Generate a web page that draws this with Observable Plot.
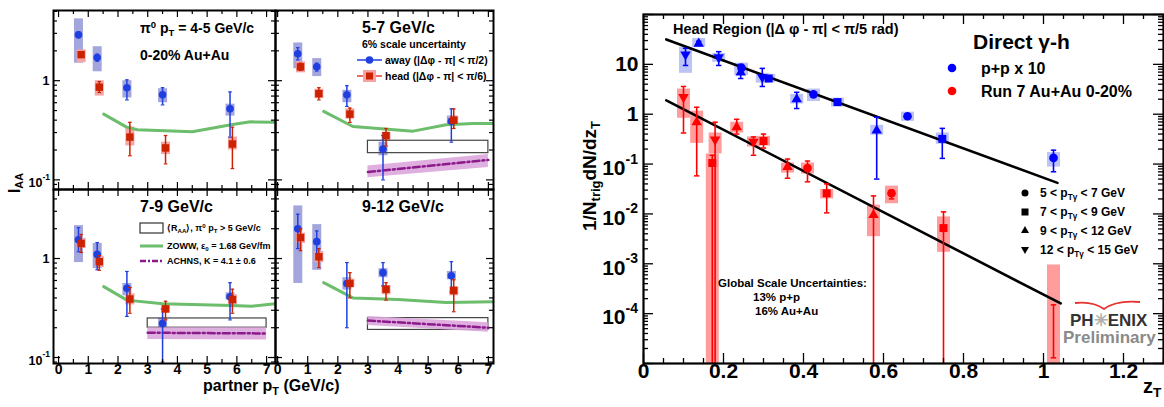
<!DOCTYPE html>
<html><head><meta charset="utf-8">
<script src="https://cdn.jsdelivr.net/npm/d3@7"></script>
<script src="https://cdn.jsdelivr.net/npm/@observablehq/plot@0.6"></script>
<style>
html,body{margin:0;padding:0;background:#fff;}
#root{position:relative;width:1164px;height:407px;overflow:hidden;background:#fff;font-family:"Liberation Sans",Arial,Helvetica,sans-serif;font-weight:bold;color:#000;}
.pan{position:absolute;}
.t{position:absolute;white-space:nowrap;line-height:1;}
.t sup,.t sub{font-size:68%;line-height:0;position:relative;vertical-align:baseline;}
.t sup{top:-0.5em;} .t sub{top:0.32em;}
.rot{transform:translate(-50%,-50%) rotate(-90deg);}
#ov{position:absolute;left:0;top:0;pointer-events:none;}
</style></head><body><div id="root"></div>
<script>
// ================= DATA: left panels, I_AA vs partner pT =================
const trigBins = ["4-5 GeV/c", "5-7 GeV/c", "7-9 GeV/c", "9-12 GeV/c"];
const awayPt = [0.67, 1.3, 2.3, 3.5, 5.77];
const headPt = [0.76, 1.37, 2.4, 3.6, 5.85];
const awayIAA    = [[2.9,1.71,0.85,0.72,0.52],[1.87,1.38,0.72,0.205,0.39],[1.55,1.1,0.5,0.22,0.41],[2.0,1.48,0.56,0.72,0.67]];
const awayStatLo = [[2.7,1.57,0.64,0.57,0.27],[1.62,1.25,0.55,0.1,0.24],[1.17,0.77,0.26,0.09,0.24],[1.26,1.12,0.2,0.53,0.46]];
const awayStatHi = [[3.1,1.85,1.02,0.85,0.77],[2.15,1.5,0.89,0.28,0.52],[2.05,1.45,0.74,0.31,0.57],[2.8,1.9,0.91,0.91,0.93]];
const awaySysLo  = [[1.5,1.23,0.67,0.6,0.44],[1.32,1.1,0.6,0.175,0.35],[0.91,0.79,0.42,0.195,0.38],[0.56,0.76,0.48,0.64,0.61]];
const awaySysHi  = [[4.2,2.2,1.0,0.83,0.58],[2.4,1.67,0.8,0.24,0.44],[2.15,1.42,0.56,0.25,0.45],[3.4,2.2,0.64,0.79,0.74]];
const headIAA    = [[1.83,0.86,0.27,0.21,0.23],[1.38,0.74,0.46,0.28,0.4],[1.42,0.93,0.39,0.31,0.385],[1.63,1.04,0.56,0.49,0.475]];
const headStatLo = [[1.72,0.76,0.175,0.145,0.13],[1.27,0.64,0.38,0.22,0.33],[1.15,0.76,0.28,0.24,0.28],[1.2,0.81,0.4,0.38,0.29]];
const headStatHi = [[1.95,0.98,0.38,0.28,0.34],[1.5,0.85,0.53,0.33,0.52],[1.75,1.07,0.51,0.37,0.49],[2.0,1.26,0.72,0.57,0.61]];
const headSysLo  = [[1.52,0.7,0.22,0.18,0.2],[1.2,0.66,0.41,0.25,0.37],[1.26,0.81,0.34,0.28,0.34],[1.42,0.91,0.51,0.43,0.42]];
const headSysHi  = [[2.05,1.0,0.34,0.24,0.27],[1.55,0.82,0.52,0.30,0.44],[1.6,1.05,0.44,0.35,0.43],[1.8,1.18,0.62,0.53,0.52]];
const zowwPt  = [[1.52,2.29,2.65,4.5,5.8,6.46,7.3],[1.53,2.5,4.5,5.6,6.5,7.2],[1.52,2.3,3.5,5.8,6.5,7.3],[1.53,2.5,4.0,5.6,7.2]];
const zowwIAA = [[0.46,0.34,0.32,0.305,0.36,0.385,0.38],[0.49,0.345,0.31,0.36,0.37,0.37],[0.52,0.38,0.35,0.335,0.33,0.35],[0.57,0.4,0.385,0.36,0.365]];
const raaPt = [3, 7];
const raaLo = [null, 0.186, 0.2, 0.19];
const raaHi = [null, 0.248, 0.248, 0.25];
const achnsPt  = [3, 7];
const achnsIAA = [null, [0.12,0.159], [0.178,0.175], [0.236,0.2]];
const achnsLo  = [null, [0.105,0.133], [0.152,0.15], [0.21,0.18]];
const achnsHi  = [null, [0.138,0.18], [0.2,0.2], [0.26,0.225]];
const partnerTicks = [0, 1, 2, 3, 4, 5, 6, 7];

// ================= DATA: right panel, 1/Ntrig dN/dzT vs zT =================
// bin: 0 = 5-7 GeV (circle), 1 = 7-9 (square), 2 = 9-12 (up triangle), 3 = 12-15 (down triangle)
const ppZ      = [0.105, 0.138, 0.188, 0.243, 0.245, 0.297, 0.313, 0.383, 0.425, 0.485, 0.583, 0.66, 0.747, 1.025];
const ppYield  = [15.8, 26, 13.8, 6.9, 8.5, 5.5, 5.2, 2.0, 2.5, 1.75, 0.47, 0.91, 0.32, 0.133];
const ppStatLo = [9.5, 24, 9.5, 5.2, 8, 3.6, 4.8, 1.3, 2.3, 1.6, 0.05, 0.85, 0.13, 0.07];
const ppStatHi = [21, 29, 18, 10, 9, 8.3, 5.6, 2.75, 2.7, 1.9, 0.87, 0.97, 0.52, 0.19];
const ppSysLo  = [6.6, 22, 11, 6, 6, 4.2, 4.3, 1.6, 1.8, 1.4, 0.38, 0.72, 0.25, 0.087];
const ppSysHi  = [22, 33, 16.6, 10.5, 10.5, 6.6, 6.3, 2.5, 3.2, 2.1, 0.6, 1.1, 0.42, 0.17];
const ppBin    = [3, 2, 3, 2, 0, 3, 1, 2, 0, 1, 2, 0, 1, 0];
const aaZ      = [0.1, 0.133, 0.172, 0.179, 0.233, 0.275, 0.3, 0.36, 0.41, 0.458, 0.575, 0.62, 0.75, 1.025];
const aaYield  = [2.2, 0.69, 0.105, 0.31, 0.55, 0.28, 0.29, 0.087, 0.083, 0.026, 0.0095, 0.026, 0.0052, null];
const aaStatLo = [0.42, 0.058, 1e-6, 1e-6, 0.4, 0.15, 0.21, 0.052, 0.044, 0.0105, 1e-6, 0.02, 1e-6, 1.3e-5];
const aaStatHi = [3.6, 1.38, 0.15, 0.69, 0.79, 0.35, 0.4, 0.126, 0.115, 0.04, 0.023, 0.03, 0.011, 1.5e-4];
const aaSysLo  = [0.83, 0.26, 1e-6, 0.16, 0.42, 0.22, 0.23, 0.066, 0.063, 0.02, 0.0035, 0.016, 0.0017, 1e-6];
const aaSysHi  = [3.2, 1.15, 0.16, 0.42, 0.69, 0.35, 0.36, 0.105, 0.105, 0.031, 0.015, 0.036, 0.0087, 9.5e-4];
const aaBin    = [3, 2, 1, 3, 2, 3, 1, 2, 0, 1, 2, 0, 1, 0];
const ppFitZ = [0.057, 1.035], ppFitY = [31.6, 0.042];
const aaFitZ = [0.057, 1.043], aaFitY = [1.9, 1.6e-4];
const zTicks = [0, 0.2, 0.4, 0.6, 0.8, 1.0, 1.2];
const yieldPlainTicks = [10, 1];
const yieldExpTicks = [0.1, 0.01, 0.001, 0.0001];

// ================= helpers =================
const root = document.getElementById("root");
const FONT = '"Liberation Sans", Arial, Helvetica, sans-serif';
const capSym = {draw(ctx, size) { const w = Math.sqrt(size / Math.PI) * 0.9; ctx.moveTo(-w, 0); ctx.lineTo(w, 0); }};
const T = (o) => ({fontFamily: FONT, fontWeight: "bold", fill: "#000", ...o});

function logMajor(lo, hi) { const o = []; for (let e = Math.floor(Math.log10(lo)); e <= Math.ceil(Math.log10(hi)); e++) { const v = Math.pow(10, e); if (v >= lo * 0.999 && v <= hi * 1.001) o.push(v); } return o; }
function logMinor(lo, hi) { const o = []; for (let e = Math.floor(Math.log10(lo)); e <= Math.ceil(Math.log10(hi)); e++) for (let k = 2; k <= 9; k++) { const v = k * Math.pow(10, e); if (v > lo && v < hi) o.push(v); } return o; }
function linTicks(lo, hi, step) { const o = []; for (let i = Math.ceil(lo / step - 1e-9); i * step <= hi + 1e-9; i++) o.push(+(i * step).toFixed(6)); return o; }

function frameTicks(W, H, xMaj, xMin, yMaj, yMin, lx, ly, sw) {
  const s = {stroke: "#000", strokeWidth: sw};
  return [
    Plot.tickX(xMaj, {x: d => d, insetTop: H - lx[0], ...s}),
    Plot.tickX(xMaj, {x: d => d, insetBottom: H - lx[0], ...s}),
    Plot.tickX(xMin, {x: d => d, insetTop: H - lx[1], ...s}),
    Plot.tickX(xMin, {x: d => d, insetBottom: H - lx[1], ...s}),
    Plot.tickY(yMaj, {y: d => d, insetRight: W - ly[0], ...s}),
    Plot.tickY(yMaj, {y: d => d, insetLeft: W - ly[0], ...s}),
    Plot.tickY(yMin, {y: d => d, insetRight: W - ly[1], ...s}),
    Plot.tickY(yMin, {y: d => d, insetLeft: W - ly[1], ...s})
  ];
}

function mount(svg, left, top, W, H) {
  const d = document.createElement("div");
  d.className = "pan";
  d.style.cssText = `left:${left}px;top:${top}px;width:${W}px;height:${H}px;`;
  d.appendChild(svg);
  root.appendChild(d);
}

// ================= left panels =================
const panelPos = [
  {left: 53, top: 10, W: 222, H: 179, xDom: [-0.17, 7.3], yDom: [0.08, 5.1], yLab: true, xLab: false},
  {left: 275, top: 10, W: 218, H: 179, xDom: [-0.07, 7.17], yDom: [0.08, 5.1], yLab: false, xLab: false},
  {left: 53, top: 189, W: 222, H: 174, xDom: [-0.17, 7.3], yDom: [0.087, 4.98], yLab: true, xLab: true},
  {left: 275, top: 189, W: 218, H: 174, xDom: [-0.07, 7.17], yDom: [0.087, 4.98], yLab: false, xLab: true}
];
const BLUE = "#1f3fe0", BLUE_BOX = "#a3a6dc", RED = "#cc2200", RED_BOX = "#f6a4a4";

trigBins.forEach((bin, i) => {
  const p = panelPos[i];
  const away = awayPt.map((x, j) => ({x, v: awayIAA[i][j], lo: awayStatLo[i][j], hi: awayStatHi[i][j], slo: awaySysLo[i][j], shi: awaySysHi[i][j]}));
  const head = headPt.map((x, j) => ({x, v: headIAA[i][j], lo: headStatLo[i][j], hi: headStatHi[i][j], slo: headSysLo[i][j], shi: headSysHi[i][j]}));
  const zoww = zowwPt[i].map((x, j) => ({x, v: zowwIAA[i][j]}));
  const marks = [
    Plot.ruleX(away, {x: "x", y1: "slo", y2: "shi", stroke: BLUE_BOX, strokeWidth: 9, clip: true}),
    Plot.ruleX(head, {x: "x", y1: "slo", y2: "shi", stroke: RED_BOX, strokeWidth: 9, clip: true}),
    Plot.line(zoww, {x: "x", y: "v", stroke: "#6cbd6c", strokeWidth: 3, clip: true})
  ];
  if (raaLo[i] != null) {
    marks.push(Plot.rect([{x1: raaPt[0], x2: raaPt[1], y1: raaLo[i], y2: raaHi[i]}], {x1: "x1", x2: "x2", y1: "y1", y2: "y2", fill: "none", stroke: "#444", strokeWidth: 1.2}));
  }
  if (achnsIAA[i]) {
    const a = achnsPt.map((x, j) => ({x, v: achnsIAA[i][j], lo: achnsLo[i][j], hi: achnsHi[i][j]}));
    marks.push(Plot.areaY(a, {x: "x", y1: "lo", y2: "hi", fill: "#dca6dc", fillOpacity: 0.9}));
    marks.push(Plot.line(a, {x: "x", y: "v", stroke: "#8b1a8b", strokeWidth: 2.5, strokeDasharray: "7,3,2,3"}));
  }
  marks.push(
    Plot.ruleX(away, {x: "x", y1: "lo", y2: "hi", stroke: BLUE, strokeWidth: 1.5, clip: true}),
    Plot.dot(away, {x: "x", y: "hi", symbol: capSym, r: 2, fill: "none", stroke: BLUE, strokeWidth: 1.2, clip: true}),
    Plot.dot(away, {x: "x", y: "lo", symbol: capSym, r: 2, fill: "none", stroke: BLUE, strokeWidth: 1.2, clip: true}),
    Plot.dot(away, {x: "x", y: "v", symbol: "circle", r: 3.8, fill: BLUE, stroke: "none"}),
    Plot.ruleX(head, {x: "x", y1: "lo", y2: "hi", stroke: RED, strokeWidth: 1.5, clip: true}),
    Plot.dot(head, {x: "x", y: "hi", symbol: capSym, r: 2, fill: "none", stroke: RED, strokeWidth: 1.2, clip: true}),
    Plot.dot(head, {x: "x", y: "lo", symbol: capSym, r: 2, fill: "none", stroke: RED, strokeWidth: 1.2, clip: true}),
    Plot.dot(head, {x: "x", y: "v", symbol: "square", r: 4.2, fill: RED, stroke: "none"}),
    Plot.frame({stroke: "#000", strokeWidth: 2}),
    ...frameTicks(p.W, p.H, partnerTicks, linTicks(-0.1, 7.3, 0.5).filter(d => d % 1 !== 0), logMajor(...p.yDom), logMinor(...p.yDom), [7, 4], [7, 4], 1.2)
  );
  if (p.yLab) {
    marks.push(
      Plot.text([1], T({y: d => d, text: () => "1", frameAnchor: "left", textAnchor: "end", dx: -4, fontSize: 12.5})),
      Plot.text([0.1], T({y: d => d, text: () => "10", frameAnchor: "left", textAnchor: "end", dx: -11, dy: 3, fontSize: 12.5})),
      Plot.text([0.1], T({y: d => d, text: () => "-1", frameAnchor: "left", textAnchor: "start", dx: -11, dy: -3, fontSize: 8.5}))
    );
  }
  if (p.xLab) {
    marks.push(Plot.text(partnerTicks, T({x: d => d, text: d => String(d), frameAnchor: "bottom", dy: 10, fontSize: 14})));
  }
  const svg = Plot.plot({
    width: p.W, height: p.H, margin: 0,
    x: {domain: p.xDom, axis: null},
    y: {type: "log", domain: p.yDom, axis: null},
    style: {overflow: "visible", background: "transparent", fontFamily: FONT},
    marks
  });
  mount(svg, p.left, p.top, p.W, p.H);
});

// ================= right panel =================
(function () {
  const W = 520, H = 349, xDom = [0, 1.3], yDom = [1e-5, 100];
  const pp = ppZ.map((z, j) => ({z, v: ppYield[j], lo: ppStatLo[j], hi: ppStatHi[j], slo: ppSysLo[j], shi: ppSysHi[j], b: ppBin[j]}));
  const aa = aaZ.map((z, j) => ({z, v: aaYield[j], lo: aaStatLo[j], hi: aaStatHi[j], slo: aaSysLo[j], shi: aaSysHi[j], b: aaBin[j]}));
  const ppFit = ppFitZ.map((z, j) => ({z, v: ppFitY[j]}));
  const aaFit = aaFitZ.map((z, j) => ({z, v: aaFitY[j]}));
  const syms = [["circle", 0, 4.3], ["square", 0, 4.5], ["triangle", 0, 3.9], ["triangle", 180, 3.9]];
  const marks = [
    Plot.ruleX(pp, {x: "z", y1: "slo", y2: "shi", stroke: "#bcc3f6", strokeWidth: 13, clip: true}),
    Plot.ruleX(aa, {x: "z", y1: "slo", y2: "shi", stroke: "#ff9c9c", strokeWidth: 13, clip: true}),
    Plot.line(ppFit, {x: "z", y: "v", stroke: "#000", strokeWidth: 2.6}),
    Plot.line(aaFit, {x: "z", y: "v", stroke: "#000", strokeWidth: 2.6})
  ];
  [[pp, "#0000ff"], [aa, "#ff0000"]].forEach(([data, col]) => {
    marks.push(
      Plot.ruleX(data, {x: "z", y1: "lo", y2: "hi", stroke: col, strokeWidth: 1.6, clip: true}),
      Plot.dot(data, {x: "z", y: "hi", symbol: capSym, r: 3, fill: "none", stroke: col, strokeWidth: 1.5, clip: true}),
      Plot.dot(data, {x: "z", y: "lo", symbol: capSym, r: 3, fill: "none", stroke: col, strokeWidth: 1.5, clip: true})
    );
    syms.forEach(([s, rot, r], b) => {
      marks.push(Plot.dot(data.filter(d => d.b === b && d.v != null), {x: "z", y: "v", symbol: s, rotate: rot, r, fill: col, stroke: "none"}));
    });
  });
  marks.push(
    Plot.frame({stroke: "#000", strokeWidth: 2.2}),
    ...frameTicks(W, H, zTicks, linTicks(0, 1.3, 0.05).filter(d => Math.abs(d / 0.2 - Math.round(d / 0.2)) > 1e-6), logMajor(...yDom), logMinor(...yDom), [10, 5], [10, 5], 1.3),
    Plot.text(zTicks, T({x: d => d, text: d => (d === 0 ? "0" : d === 1 ? "1" : d.toFixed(1)), frameAnchor: "bottom", dy: 14, fontSize: 21})),
    Plot.text(yieldPlainTicks, T({y: d => d, text: d => String(d), frameAnchor: "left", textAnchor: "end", dx: -5, fontSize: 21})),
    Plot.text(yieldExpTicks, T({y: d => d, text: () => "10", frameAnchor: "left", textAnchor: "end", dx: -18, dy: 4, fontSize: 21})),
    Plot.text(yieldExpTicks, T({y: d => d, text: d => String(Math.round(Math.log10(d))), frameAnchor: "left", textAnchor: "start", dx: -18, dy: -5, fontSize: 14}))
  );
  const svg = Plot.plot({
    width: W, height: H, margin: 0,
    x: {domain: xDom, axis: null},
    y: {type: "log", domain: yDom, axis: null},
    style: {overflow: "visible", background: "transparent", fontFamily: FONT},
    marks
  });
  mount(svg, 643, 14, W, H);
})();

// ================= legends / annotations =================
root.insertAdjacentHTML("beforeend", `<svg id="ov" width="1164" height="407">
 <line x1="357" y1="60" x2="382" y2="60" stroke="${BLUE}" stroke-width="1.5"/>
 <circle cx="369.5" cy="60" r="3.8" fill="${BLUE}"/>
 <line x1="357" y1="76" x2="382" y2="76" stroke="#e04030" stroke-width="1.5"/>
 <rect x="363" y="70" width="13" height="12" fill="${RED_BOX}"/>
 <rect x="366" y="72.5" width="7" height="7" fill="${RED}"/>
 <rect x="140" y="223" width="23" height="10" fill="none" stroke="#333" stroke-width="1.2"/>
 <line x1="140" y1="246" x2="163" y2="246" stroke="#6cbd6c" stroke-width="3"/>
 <line x1="140" y1="261" x2="163" y2="261" stroke="#8b1a8b" stroke-width="2.5" stroke-dasharray="6,2,2,2"/>
 <circle cx="952" cy="68" r="4.3" fill="#0000ff"/>
 <circle cx="952" cy="91" r="4.3" fill="#ff0000"/>
 <circle cx="1025" cy="193" r="3.5" fill="#000"/>
 <rect x="1021.5" y="208.5" width="7" height="7" fill="#000"/>
 <path d="M1025,226 L1029,233 L1021,233 Z" fill="#000"/>
 <path d="M1025,254 L1029,247 L1021,247 Z" fill="#000"/>
 <path d="M1075,303 Q1093,301 1104,309 Q1116,300 1140,302" fill="none" stroke="#e8322e" stroke-width="1.8"/>
</svg>`);

const texts = [
  [140, 28, 14, "π<sup>0</sup> p<sub>T</sub> = 4-5 GeV/c"],
  [140, 55, 14, "0-20% Au+Au"],
  [362, 27.5, 16, "5-7 GeV/c"],
  [362, 44, 10.5, "6% scale uncertainty"],
  [385, 60, 10.5, "away (|Δφ - π| &lt; π/2)"],
  [385, 76, 10.5, "head (|Δφ - π| &lt; π/6)"],
  [140, 207, 16, "7-9 GeV/c"],
  [167, 228, 9, "⟨R<sub>AA</sub>⟩, π<sup>0</sup> p<sub>T</sub> &gt; 5 GeV/c"],
  [167, 246, 9, "ZOWW, ε<sub>0</sub> = 1.68 GeV/fm"],
  [167, 261, 9, "ACHNS, K = 4.1 ± 0.6"],
  [362, 207, 16, "9-12 GeV/c"],
  [203, 386, 16, "partner p<sub>T</sub> (GeV/c)"],
  [673, 29, 14.5, "Head Region (|Δ φ - π| &lt; π/5 rad)"],
  [973, 41.5, 21, "Direct γ-h"],
  [981, 69, 16, "p+p x 10"],
  [981, 92, 16, "Run 7 Au+Au 0-20%"],
  [1040, 193, 12, "5 &lt; p<sub>Tγ</sub> &lt; 7 GeV"],
  [1040, 212, 12, "7 &lt; p<sub>Tγ</sub> &lt; 9 GeV"],
  [1040, 231, 12, "9 &lt; p<sub>Tγ</sub> &lt; 12 GeV"],
  [1040, 250, 12, "12 &lt; p<sub>Tγ</sub> &lt; 15 GeV"],
  [718, 284, 11.5, "Global Scale Uncertainties:"],
  [753, 298, 11.5, "13% p+p"],
  [755, 312, 11.5, "16% Au+Au"],
  [1070, 320, 17, "<span style='color:#333'>PH</span><span style='color:#b0b0b0'>✳</span><span style='color:#333'>ENIX</span>"],
  [1063, 337, 17, "<span style='color:#8a8a8a'>Preliminary</span>"]
];
texts.forEach(([x, cy, fs, html]) => {
  root.insertAdjacentHTML("beforeend", `<div class="t" style="left:${x}px;top:${(cy - 0.49 * fs).toFixed(1)}px;font-size:${fs}px">${html}</div>`);
});
root.insertAdjacentHTML("beforeend", `<div class="t" style="left:1143px;top:376px;font-size:20px">z<sub>T</sub></div>`);
root.insertAdjacentHTML("beforeend", `<div class="t rot" style="left:15px;top:183px;font-size:16px">I<sub>AA</sub></div>`);
root.insertAdjacentHTML("beforeend", `<div class="t rot" style="left:589px;top:176px;font-size:19px">1/N<sub>trig</sub>dN/dz<sub>T</sub></div>`);
</script></body></html>
